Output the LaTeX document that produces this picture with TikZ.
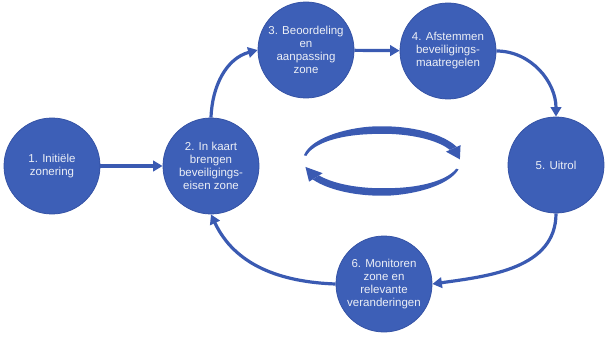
\documentclass[tikz,border=0pt]{standalone}
\usepackage{fontspec}
\setmainfont{Liberation Sans}
\usetikzlibrary{arrows.meta}
\definecolor{disc}{RGB}{61,95,183}
\definecolor{discedge}{RGB}{52,82,165}
\definecolor{flow}{RGB}{58,90,178}
\definecolor{label}{RGB}{236,239,246}
\begin{document}
\begin{tikzpicture}[x=1pt,y=-1pt,
  stage/.style={circle, minimum size=96pt, inner sep=0pt, fill=disc, draw=discedge,
    line width=0.8pt, text=label, align=center,
    font=\fontsize{11.5}{13}\selectfont},
  conn/.style={draw=flow, line width=3.2pt, -{Triangle[length=9.5pt,width=10.5pt]}},
  declare function={
    cx=382; cy=161; ea=78; eb=31;
    wu(\t)=2.5+5*min(1,(170-\t)/70);
    wl(\t)=2.5+5*min(1,(345-\t)/70);
  }]
  \useasboundingbox (0,0) rectangle (611,337);

  % process stages
  \node[stage] (c1) at (52,166) {1. Initiële\\zonering};
  \node[stage] (c2) at (211,166) {2. In kaart\\brengen\\beveiligings-\\eisen zone};
  \node[stage] (c3) at (306,50) {3. Beoordeling\\en\\aanpassing\\zone};
  \node[stage] (c4) at (448,51) {4. Afstemmen\\beveiligings-\\maatregelen};
  \node[stage] (c5) at (556,165) {5. Uitrol};
  \node[stage] (c6) at (384,284) {6. Monitoren\\zone en\\relevante\\veranderingen};

  % connectors of the cycle
  \draw[conn] (c1) -- (c2);
  \draw[conn] (c2.north) to[out=88,in=195] (c3.west);
  \draw[conn] (c3) -- (c4);
  \draw[conn] (c4.east) to[out=0,in=90] (c5.north);
  \draw[conn] (c5.south) to[out=-90,in=8] (c6.east);
  \draw[conn] (c6.west) to[out=178,in=-65] (c2.south);

  % central circular arrows (tapered bodies plus heads)
  \fill[flow] plot[domain=170:24,samples=60]
      ({cx+(ea+wu(\x)/2)*cos(\x)},{cy-(eb+wu(\x)/2)*sin(\x)})
    -- plot[domain=24:170,samples=60]
      ({cx+(ea-wu(\x)/2)*cos(\x)},{cy-(eb-wu(\x)/2)*sin(\x)}) -- cycle;
  \fill[flow] ({cx+(ea+8)*cos(24)},{cy-(eb+8)*sin(24)})
    -- ({cx+ea*cos(3)},{cy-eb*sin(3)})
    -- ({cx+(ea-8)*cos(24)},{cy-(eb-8)*sin(24)}) -- cycle;

  \fill[flow] plot[domain=345:212,samples=60]
      ({cx+(ea+wl(\x)/2)*cos(\x)},{cy-(eb+wl(\x)/2)*sin(\x)})
    -- plot[domain=212:345,samples=60]
      ({cx+(ea-wl(\x)/2)*cos(\x)},{cy-(eb-wl(\x)/2)*sin(\x)}) -- cycle;
  \fill[flow] ({cx+(ea+8)*cos(212)},{cy-(eb+8)*sin(212)})
    -- ({cx+ea*cos(191)},{cy-eb*sin(191)})
    -- ({cx+(ea-8)*cos(212)},{cy-(eb-8)*sin(212)}) -- cycle;
\end{tikzpicture}
\end{document}
